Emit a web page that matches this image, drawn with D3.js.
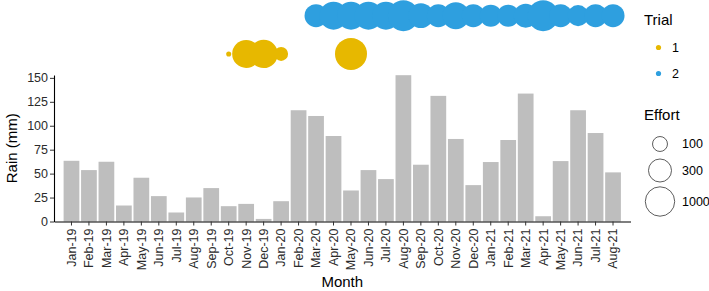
<!DOCTYPE html>
<html>
<head>
<meta charset="utf-8">
<script src="https://cdn.jsdelivr.net/npm/d3@7"></script>
<style>
    body { margin: 0; background: #fff; }
    text { font-family: "Liberation Sans", Arial, sans-serif; }
</style>
</head>
<body>
<svg id="chart" width="709" height="291"></svg>
<script>
// monthly rain (mm)
const months = ["Jan-19", "Feb-19", "Mar-19", "Apr-19", "May-19", "Jun-19", "Jul-19", "Aug-19",
    "Sep-19", "Oct-19", "Nov-19", "Dec-19", "Jan-20", "Feb-20", "Mar-20", "Apr-20", "May-20",
    "Jun-20", "Jul-20", "Aug-20", "Sep-20", "Oct-20", "Nov-20", "Dec-20", "Jan-21", "Feb-21",
    "Mar-21", "Apr-21", "May-21", "Jun-21", "Jul-21", "Aug-21"];
const rain = [63.4, 53.7, 62.4, 16.7, 45.7, 26.5, 9.4, 25.1, 34.9, 16, 18.4, 2.7, 21.2, 116.2,
    110.2, 89.3, 32.4, 53.7, 44.3, 152.8, 59.3, 131.2, 86.2, 38, 62.1, 85.1, 133.6, 5.5, 63.1,
    116.2, 92.4, 51.3];
const yTicks = [0, 25, 50, 75, 100, 125, 150];

// trial effort per month
const trial1Months = ["Oct-19", "Nov-19", "Dec-19", "Jan-20", "May-20"];
const trial1Effort = [49, 750, 800, 90, 1780];
const trial2Months = ["Mar-20", "Apr-20", "May-20", "Jun-20", "Jul-20", "Aug-20", "Sep-20",
    "Oct-20", "Nov-20", "Dec-20", "Jan-21", "Feb-21", "Mar-21", "Apr-21", "May-21", "Jun-21",
    "Jul-21", "Aug-21"];
const trial2Effort = [300, 750, 750, 750, 750, 1420, 420, 300, 615, 300, 255, 255, 355, 1420,
    300, 220, 300, 300];
const trialLevels = ["1", "2"];
const trialRow = [175, 215];   // rain-axis value where each trial row sits
const effortBreaks = [100, 300, 1000];

drawChart();

function drawChart() {
    let svg = d3.select("#chart");
    let margin = { left: 54, right: 630.5, top: 75, bottom: 221.5 };

    let x = d3.scaleBand()
        .domain(months)
        .range([margin.left, margin.right])
        .paddingInner(0.1)
        .paddingOuter(0.55);

    let y = d3.scaleLinear()
        .domain([0, 153])
        .range([margin.bottom, margin.top]);

    let color = d3.scaleOrdinal()
        .domain(trialLevels)
        .range(["#E7B800", "#2E9FDF"]);

    // area grows with log of effort
    let area = d3.scaleLog()
        .domain([100, 1000])
        .range([56, 216]);
    let radius = v => Math.sqrt(area(v));

    // bars
    svg.append("g")
        .selectAll("rect")
        .data(months)
        .enter()
        .append("rect")
        .attr("x", d => x(d))
        .attr("width", x.bandwidth())
        .attr("y", (d, i) => y(rain[i]))
        .attr("height", (d, i) => y(0) - y(rain[i]))
        .attr("fill", "#BEBEBE");

    // axes
    let xAxis = svg.append("g")
        .attr("transform", `translate(0,${margin.bottom})`)
        .call(d3.axisBottom(x).tickSize(4).tickSizeOuter(0));
    xAxis.select(".domain").attr("stroke", "#000").attr("stroke-width", 1.1);
    xAxis.selectAll(".tick line").attr("stroke", "#333");
    xAxis.selectAll(".tick text")
        .attr("transform", "rotate(-90)")
        .attr("x", -7)
        .attr("y", 0)
        .attr("dy", "0.35em")
        .attr("text-anchor", "end")
        .attr("font-size", 12.5)
        .attr("fill", "#2b2b2b");

    let yAxis = svg.append("g")
        .attr("transform", `translate(${margin.left},0)`)
        .call(d3.axisLeft(y).tickValues(yTicks).tickSize(4).tickSizeOuter(0));
    yAxis.select(".domain").attr("stroke", "#000").attr("stroke-width", 1.1);
    yAxis.selectAll(".tick line").attr("stroke", "#333");
    yAxis.selectAll(".tick text")
        .attr("x", -6)
        .attr("font-size", 12.5)
        .attr("fill", "#2b2b2b");

    svg.append("text")
        .attr("transform", `translate(17,${(margin.top + margin.bottom) / 2}) rotate(-90)`)
        .attr("text-anchor", "middle")
        .attr("font-size", 15)
        .text("Rain (mm)");

    svg.append("text")
        .attr("x", (margin.left + margin.right) / 2)
        .attr("y", 287)
        .attr("text-anchor", "middle")
        .attr("font-size", 15)
        .text("Month");

    // effort bubbles
    let trials = [
        { level: "1", months: trial1Months, effort: trial1Effort, row: trialRow[0] },
        { level: "2", months: trial2Months, effort: trial2Effort, row: trialRow[1] }
    ];
    trials.forEach(t => {
        svg.append("g")
            .selectAll("circle")
            .data(t.months)
            .enter()
            .append("circle")
            .attr("cx", d => x(d) + x.bandwidth() / 2)
            .attr("cy", y(t.row))
            .attr("r", (d, i) => radius(t.effort[i]))
            .attr("fill", color(t.level));
    });

    drawLegend(svg, color, radius);
}

function drawLegend(svg, color, radius) {
    let lg = svg.append("g");
    lg.append("text")
        .attr("x", 644)
        .attr("y", 25)
        .attr("font-size", 15)
        .text("Trial");

    let keyY = [47.5, 73.5];
    trialLevels.forEach((lv, i) => {
        lg.append("circle")
            .attr("cx", 658.5)
            .attr("cy", keyY[i])
            .attr("r", 2.6)
            .attr("fill", color(lv));
        lg.append("text")
            .attr("x", 672)
            .attr("y", keyY[i])
            .attr("dy", "0.35em")
            .attr("font-size", 12.5)
            .text(lv);
    });

    lg.append("text")
        .attr("x", 644)
        .attr("y", 120)
        .attr("font-size", 15)
        .text("Effort");

    let sizeY = [144, 170.5, 201.5];
    effortBreaks.forEach((v, i) => {
        lg.append("circle")
            .attr("cx", 660)
            .attr("cy", sizeY[i])
            .attr("r", radius(v))
            .attr("fill", "none")
            .attr("stroke", "#333")
            .attr("stroke-width", 0.8);
        lg.append("text")
            .attr("x", 682)
            .attr("y", sizeY[i])
            .attr("dy", "0.35em")
            .attr("font-size", 12.5)
            .text(v);
    });
}
</script>
</body>
</html>
